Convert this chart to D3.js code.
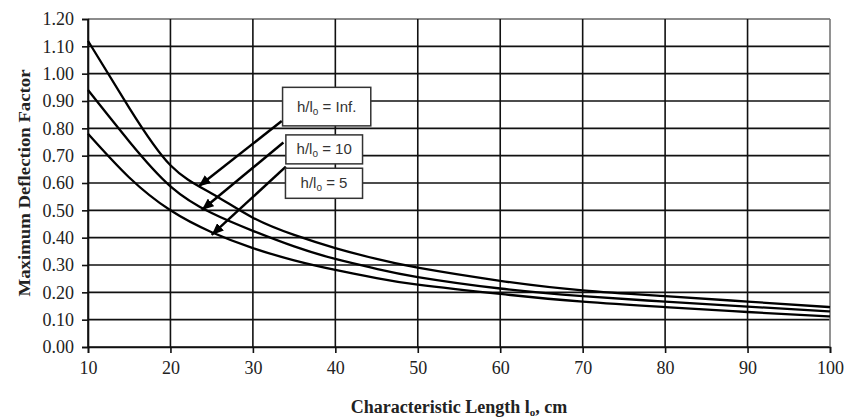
<!DOCTYPE html>
<html>
<head>
<meta charset="utf-8">
<script src="https://cdn.jsdelivr.net/npm/d3@7"></script>
<style>
  body { margin: 0; background: #fff; }
  svg { display: block; }
</style>
</head>
<body>
<svg id="chart"></svg>
<script>
// characteristic length l0 (cm) and deflection factor per h/l0 ratio
const lengths = [10, 15, 20, 25, 30, 35, 40, 45, 50, 60, 70, 80, 90, 100];
const factorInf = [1.12, 0.875, 0.665, 0.562, 0.473, 0.41, 0.362, 0.322, 0.29, 0.242, 0.207, 0.186, 0.166, 0.146];
const factor10 = [0.94, 0.752, 0.588, 0.49, 0.425, 0.368, 0.322, 0.286, 0.256, 0.214, 0.186, 0.166, 0.148, 0.13];
const factor5 = [0.78, 0.62, 0.50, 0.42, 0.362, 0.317, 0.282, 0.252, 0.228, 0.194, 0.166, 0.146, 0.128, 0.112];

const xTicks = [10, 20, 30, 40, 50, 60, 70, 80, 90, 100];
const yTicks = [0, 0.1, 0.2, 0.3, 0.4, 0.5, 0.6, 0.7, 0.8, 0.9, 1.0, 1.1, 1.2];

const legendNames = ['Inf.', '10', '5'];
// label boxes [x0, x1, yTop, yBottom] and arrows [xStart, yStart, xTip, yTip], in data units
const legendBoxes = [[33.6, 44.3, 0.95, 0.809], [34.0, 43.3, 0.776, 0.67], [33.95, 43.3, 0.654, 0.544]];
const legendArrows = [[33.5, 0.827, 23.4, 0.587], [33.7, 0.748, 23.8, 0.501], [34.0, 0.66, 25.0, 0.41]];

const margin = {top: 19, bottom: 72, left: 88, right: 16};
const width = 846 - margin.left - margin.right;
const height = 419 - margin.top - margin.bottom;

const serif = '"Liberation Serif", "Times New Roman", serif';

const root = d3.select('#chart')
  .attr('width', width + margin.left + margin.right)
  .attr('height', height + margin.top + margin.bottom);

const svg = root.append('g')
  .attr('transform', `translate(${margin.left}, ${margin.top})`);

const x = d3.scaleLinear().domain([10, 100]).range([0, width]);
const y = d3.scaleLinear().domain([0, 1.2]).range([height, 0]);

// grid
svg.append('g')
  .selectAll('line')
  .data(yTicks)
  .enter()
  .append('line')
  .attr('x1', 0).attr('x2', width)
  .attr('y1', d => y(d)).attr('y2', d => y(d))
  .attr('stroke', d => d === 1.2 ? '#666' : '#111')
  .attr('stroke-width', 1.6);

svg.append('g')
  .selectAll('line')
  .data(xTicks)
  .enter()
  .append('line')
  .attr('x1', d => x(d)).attr('x2', d => x(d))
  .attr('y1', 0).attr('y2', height)
  .attr('stroke', d => d === 100 ? '#777' : '#111')
  .attr('stroke-width', 1.6);

// axes
const yAxis = svg.append('g')
  .call(d3.axisLeft(y).tickValues(yTicks).tickFormat(d3.format('.2f')).tickSize(6).tickPadding(8));

const xAxis = svg.append('g')
  .attr('transform', `translate(0,${height})`)
  .call(d3.axisBottom(x).tickValues(xTicks).tickSize(6).tickPadding(8));

[yAxis, xAxis].forEach(ax => {
  ax.attr('font-family', serif).attr('font-size', 18);
  ax.select('.domain').attr('stroke', '#111').attr('stroke-width', 1.6);
  ax.selectAll('.tick line').attr('stroke', '#111').attr('stroke-width', 1.6);
  ax.selectAll('.tick text').attr('fill', '#222');
});

// curves
const line = d3.line()
  .x((d, i) => x(lengths[i]))
  .y(d => y(d))
  .curve(d3.curveNatural);

[factorInf, factor10, factor5].forEach(series => {
  svg.append('path')
    .datum(series)
    .attr('fill', 'none')
    .attr('stroke', '#000')
    .attr('stroke-width', 2.3)
    .attr('d', line);
});

// arrows
root.append('defs')
  .append('marker')
  .attr('id', 'head')
  .attr('markerUnits', 'userSpaceOnUse')
  .attr('viewBox', '0 0 12 10')
  .attr('refX', 12).attr('refY', 5)
  .attr('markerWidth', 12).attr('markerHeight', 10)
  .attr('orient', 'auto')
  .append('path')
  .attr('d', 'M0,0L12,5L0,10Z')
  .attr('fill', '#000');

svg.selectAll('.arrow')
  .data(legendArrows)
  .enter()
  .append('line')
  .attr('class', 'arrow')
  .attr('x1', d => x(d[0])).attr('y1', d => y(d[1]))
  .attr('x2', d => x(d[2])).attr('y2', d => y(d[3]))
  .attr('stroke', '#000')
  .attr('stroke-width', 2.5)
  .attr('marker-end', 'url(#head)');

// label boxes
const boxes = svg.selectAll('.lbl')
  .data(legendNames)
  .enter()
  .append('g')
  .attr('class', 'lbl');

boxes.append('rect')
  .attr('x', (d, i) => x(legendBoxes[i][0]))
  .attr('y', (d, i) => y(legendBoxes[i][2]))
  .attr('width', (d, i) => x(legendBoxes[i][1]) - x(legendBoxes[i][0]))
  .attr('height', (d, i) => y(legendBoxes[i][3]) - y(legendBoxes[i][2]))
  .attr('fill', '#fff')
  .attr('stroke', '#333')
  .attr('stroke-width', 1.5);

const lblText = boxes.append('text')
  .attr('x', (d, i) => (x(legendBoxes[i][0]) + x(legendBoxes[i][1])) / 2)
  .attr('y', (d, i) => (y(legendBoxes[i][2]) + y(legendBoxes[i][3])) / 2 + 5)
  .attr('text-anchor', 'middle')
  .attr('fill', '#333')
  .style('font-family', '"Liberation Sans", Arial, sans-serif')
  .style('font-size', '15px');

lblText.append('tspan').text('h/l');
lblText.append('tspan').attr('dy', 3).style('font-size', '10px').text('o');
lblText.append('tspan').attr('dy', -3).text(d => ' = ' + d);

// axis titles
svg.append('text')
  .attr('transform', `translate(${-margin.left + 30}, ${height / 2}) rotate(-90)`)
  .attr('text-anchor', 'middle')
  .attr('fill', '#222')
  .attr('textLength', 227)
  .attr('lengthAdjust', 'spacingAndGlyphs')
  .style('font-family', serif)
  .style('font-weight', 'bold')
  .style('font-size', '17px')
  .text('Maximum Deflection Factor');

const xTitle = svg.append('text')
  .attr('x', width / 2)
  .attr('y', height + 66)
  .attr('text-anchor', 'middle')
  .attr('fill', '#222')
  .style('font-family', serif)
  .style('font-weight', 'bold')
  .style('font-size', '18px');

xTitle.append('tspan').text('Characteristic Length l');
xTitle.append('tspan').attr('dy', 3).style('font-size', '11px').text('o');
xTitle.append('tspan').attr('dy', -3).text(', cm');
</script>
</body>
</html>
